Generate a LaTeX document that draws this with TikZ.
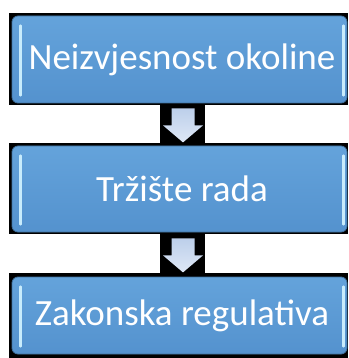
\documentclass[tikz,border=0pt]{standalone}
\usepackage{fontspec}
\setmainfont{Carlito}
\usepackage{tikz}

\definecolor{boxtop}{RGB}{100,163,219}
\definecolor{boxbot}{RGB}{84,146,206}
\definecolor{boxedge}{RGB}{65,113,156}
\definecolor{glint}{RGB}{200,236,252}
\definecolor{arrtop}{RGB}{188,207,234}
\definecolor{arrbot}{RGB}{222,232,246}

\begin{document}
\begin{tikzpicture}[x=1pt,y=-1pt,
    box/.style={draw=boxedge, line width=0.8pt, rounded corners=6pt,
      top color=boxtop, bottom color=boxbot, text=white,
      minimum width=335pt, inner sep=0pt,
      font=\fontsize{37}{40}\selectfont},
    downarrow/.style={top color=arrtop, bottom color=arrbot},
    glintline/.style={glint, line width=2.5pt, line cap=round}]
    \useasboundingbox (0,0) rectangle (348,358);
    % black backing
    \fill[black] (9,13) rectangle (348,105);
    \fill[black] (160,105) rectangle (205,143);
    \fill[black] (9,143) rectangle (348,234);
    \fill[black] (160,234) rectangle (205,273);
    \fill[black] (9,273) rectangle (348,358);
    % boxes
    \node[box, minimum height=87pt] (A) at (179.5,59.5) {\hspace*{5pt}Neizvjesnost okoline};
    \node[box, minimum height=86pt] (B) at (179.5,189) {\hspace*{5pt}Tržište rada};
    \node[box, minimum height=77pt] (C) at (179.5,315.5) {\hspace*{5pt}Zakonska regulativa};
    % glints
    \draw[glintline] ([xshift=9pt,yshift=-10pt]A.north west) -- ([xshift=9pt,yshift=8pt]A.south west);
    \draw[glintline] ([xshift=-4pt,yshift=-10pt]A.north east) -- ([xshift=-4pt,yshift=8pt]A.south east);
    \draw[glintline] ([xshift=9pt,yshift=-10pt]B.north west) -- ([xshift=9pt,yshift=8pt]B.south west);
    \draw[glintline] ([xshift=-4pt,yshift=-10pt]B.north east) -- ([xshift=-4pt,yshift=8pt]B.south east);
    \draw[glintline] ([xshift=9pt,yshift=-10pt]C.north west) -- ([xshift=9pt,yshift=8pt]C.south west);
    \draw[glintline] ([xshift=-4pt,yshift=-10pt]C.north east) -- ([xshift=-4pt,yshift=8pt]C.south east);
    % arrows
    \coordinate (AB) at ([xshift=3.5pt,yshift=-5pt]A.south);
    \coordinate (BC) at ([xshift=3.5pt,yshift=-6pt]B.south);
    \fill[downarrow] (AB) ++(-11.5,0) -- ++(23,0) -- ++(0,17) -- ++(8.5,0)
      -- ++(-20,17) -- ++(-20,-17) -- ++(8.5,0) -- cycle;
    \fill[downarrow] (BC) ++(-11.5,0) -- ++(23,0) -- ++(0,17) -- ++(8.5,0)
      -- ++(-20,17) -- ++(-20,-17) -- ++(8.5,0) -- cycle;
  \end{tikzpicture}
\end{document}
